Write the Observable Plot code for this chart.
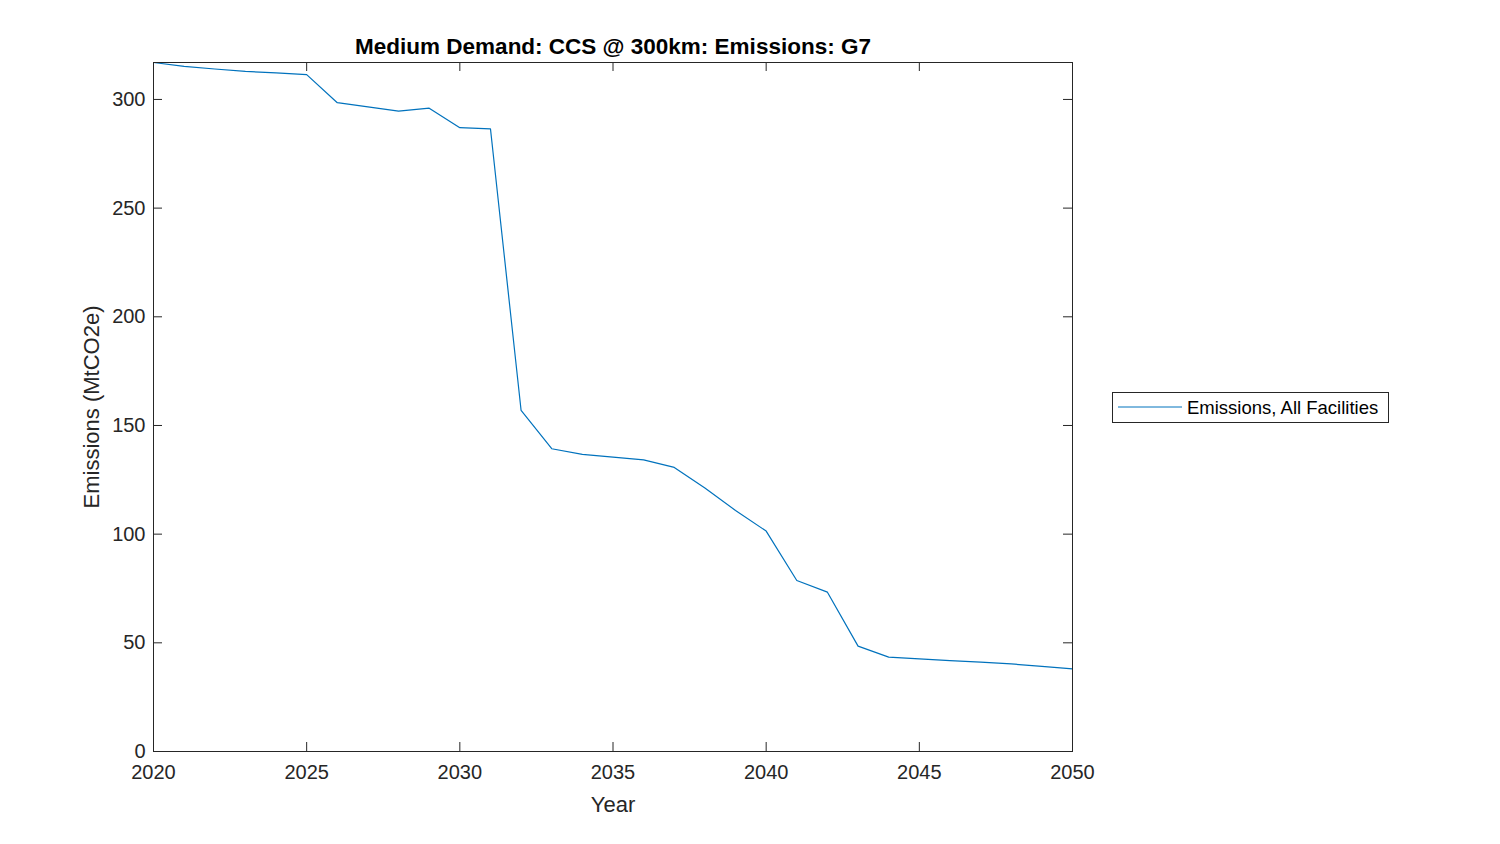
<!DOCTYPE html>
<html>
<head>
<meta charset="utf-8">
<script src="https://cdn.jsdelivr.net/npm/d3@7"></script>
<script src="https://cdn.jsdelivr.net/npm/@observablehq/plot@0.6"></script>
<style>
  html, body { margin: 0; padding: 0; background: #fff; }
  #wrap { position: relative; width: 1500px; height: 844px; font-family: "Liberation Sans", Arial, Helvetica, sans-serif; }
</style>
</head>
<body>
<div id="wrap"></div>
<script>
const years = [2020,2021,2022,2023,2024,2025,2026,2027,2028,2029,2030,2031,2032,2033,2034,2035,2036,2037,2038,2039,2040,2041,2042,2043,2044,2045,2046,2047,2048,2049,2050];
const emissions = [317,315.2,314.0,312.9,312.2,311.4,298.5,296.6,294.6,296.0,287.0,286.5,156.9,139.3,136.7,135.4,134.2,130.7,121.2,110.9,101.4,78.7,73.3,48.5,43.4,42.6,41.8,41.1,40.3,39.2,38.0];
const xTicks = [2020,2025,2030,2035,2040,2045,2050];
const yTicks = [0,50,100,150,200,250,300];
const titleText = "Medium Demand: CCS @ 300km: Emissions: G7";
const xLabel = "Year";
const yLabel = "Emissions (MtCO2e)";
const seriesName = "Emissions, All Facilities";

const data = years.map((y, i) => ({year: y, value: emissions[i]}));

const W = 1500, H = 844;
const mL = 153, mR = 428, mT = 62, mB = 93;
const pw = W - mL - mR, ph = H - mT - mB;
const axisColor = "#262626";
const lineColor = "#0072BD";
const tickLen = 9;

const chart = Plot.plot({
  width: W,
  height: H,
  marginLeft: mL,
  marginRight: mR,
  marginTop: mT,
  marginBottom: mB,
  style: {fontFamily: "'Liberation Sans', Arial, Helvetica, sans-serif", fontSize: "20px", color: axisColor, background: "#fff"},
  x: {domain: [2020, 2050]},
  y: {domain: [0, d3.max(emissions)]},
  marks: [
    Plot.axisX(xTicks, {tickSize: 0, tickPadding: 13, tickFormat: "d", label: null, fill: axisColor}),
    Plot.axisY(yTicks, {tickSize: 0, tickPadding: 8, tickFormat: "d", label: null, fill: axisColor}),
    Plot.tickX(xTicks, {x: d => d, insetTop: ph - tickLen, stroke: axisColor}),
    Plot.tickX(xTicks, {x: d => d, insetBottom: ph - tickLen, stroke: axisColor}),
    Plot.tickY(yTicks, {y: d => d, insetRight: pw - tickLen, stroke: axisColor}),
    Plot.tickY(yTicks, {y: d => d, insetLeft: pw - tickLen, stroke: axisColor}),
    Plot.line(data, {x: "year", y: "value", stroke: lineColor, strokeWidth: 1.2}),
    Plot.frame({stroke: axisColor, strokeWidth: 1}),
    Plot.text([titleText], {frameAnchor: "top", dy: -9, lineAnchor: "bottom", fontSize: 22.5, fontWeight: "bold", fill: "#000"}),
    Plot.text([xLabel], {frameAnchor: "bottom", dy: 60, lineAnchor: "bottom", fontSize: 22, fill: axisColor}),
    Plot.text([yLabel], {frameAnchor: "left", dx: -54.5, rotate: -90, textAnchor: "middle", lineAnchor: "bottom", fontSize: 22, fill: axisColor})
  ]
});

const wrap = document.getElementById("wrap");
wrap.appendChild(chart);

// Legend
const legend = d3.create("svg")
  .attr("width", 278)
  .attr("height", 32)
  .style("position", "absolute")
  .style("left", "1112px")
  .style("top", "392px");
legend.append("rect").attr("x", 0.5).attr("y", 0.5).attr("width", 276).attr("height", 30)
  .attr("fill", "#fff").attr("stroke", axisColor);
legend.append("line").attr("x1", 6).attr("x2", 70).attr("y1", 15).attr("y2", 15)
  .attr("stroke", lineColor).attr("stroke-width", 1);
legend.append("text").attr("x", 75).attr("y", 21.5)
  .attr("font-family", "'Liberation Sans', Arial, Helvetica, sans-serif")
  .attr("font-size", 18.5).attr("fill", "#000").text(seriesName);
wrap.appendChild(legend.node());
</script>
</body>
</html>
